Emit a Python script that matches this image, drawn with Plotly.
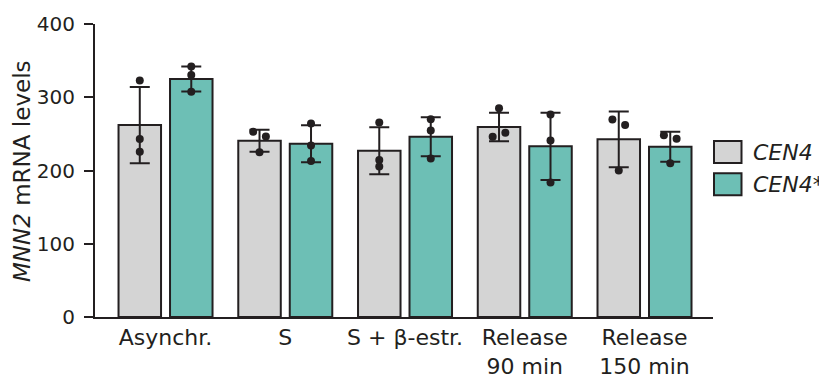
import plotly.graph_objects as go

# ---- data ----
categories = ["Asynchr.", "S", "S + β-estr.", "Release<br>90 min", "Release<br>150 min"]
series_names = ["<i>CEN4</i>", "<i>CEN4*</i>"]
cen4_mean = [262, 240.5, 227, 259.5, 242.5]
cen4_sd = [52, 15, 32, 19.5, 38]
cen4star_mean = [325, 236.5, 246, 233, 232.5]
cen4star_sd = [17, 25.3, 26.6, 46, 20.5]
cen4_points = [[323, 243, 225.5], [253, 246.5, 225], [265.5, 214.5, 205.5],
               [285, 246, 251.5], [269.5, 262, 200]]
cen4star_points = [[342, 330.5, 307.5], [264, 234, 213], [270, 254.5, 216.5],
                   [276.5, 241, 183.5], [248, 243.5, 210]]
# horizontal jitter direction of each replicate dot (-1 left, 0 centre, 1 right)
cen4_jitter = [[0, 0, 0], [-1, 1, 0], [0, 0, 0], [0, -1, 1], [-1, 1, 0]]
cen4star_jitter = [[0, 0, 0], [0, 0, 0], [0, 0, 0], [0, 0, 0], [-1, 1, 0]]
y_ticks = [0, 100, 200, 300, 400]

# ---- style ----
INK = "#231f20"
GRAY = "#d4d4d4"
TEAL = "#6dbfb5"
FONT = "DejaVu Sans"
OFF = 0.215
BW = 0.355
JIT = 0.053

idx = list(range(len(categories)))

fig = go.Figure()

def add_series(means, sds, points, jitter, color, offset):
    xs = [i + offset for i in idx]
    fig.add_trace(go.Bar(
        x=xs, y=means, width=BW, marker=dict(color=color, line=dict(color=INK, width=2)),
        error_y=dict(type="data", array=sds, visible=True, color=INK, thickness=2, width=10),
        showlegend=False,
    ))
    px, py = [], []
    for i, (pts, jit) in enumerate(zip(points, jitter)):
        for v, j in zip(pts, jit):
            px.append(i + offset + j * JIT)
            py.append(v)
    fig.add_trace(go.Scatter(
        x=px, y=py, mode="markers",
        marker=dict(color=INK, size=8, line=dict(width=0)),
        showlegend=False,
    ))

add_series(cen4_mean, cen4_sd, cen4_points, cen4_jitter, GRAY, -OFF)
add_series(cen4star_mean, cen4star_sd, cen4star_points, cen4star_jitter, TEAL, OFF)

# page has an 8px body margin: figure coordinates = page coordinates - 8
PAD = 8
W, H = 827 - PAD, 378 - PAD
L, R, T, B = 95 - PAD, 114, 24 - PAD, 61
pw, ph = W - L - R, H - T - B

def px2x(p):  # page pixel -> paper x
    return (p - PAD - L) / pw

def px2y(p):  # page pixel -> paper y
    return (H - B - (p - PAD)) / ph

# legend drawn manually (large rectangles)
legend_rows = [(152, GRAY), (184.3, TEAL)]
for (cy, col), name in zip(legend_rows, series_names):
    fig.add_shape(type="rect", xref="paper", yref="paper",
                  x0=px2x(714), x1=px2x(741.5), y0=px2y(cy + 11), y1=px2y(cy - 11),
                  fillcolor=col, line=dict(color=INK, width=2))
    fig.add_annotation(xref="paper", yref="paper", x=px2x(751), y=px2y(cy),
                       xanchor="left", yanchor="middle", text=name, showarrow=False,
                       font=dict(family=FONT, size=22, color=INK))

fig.add_annotation(xref="paper", yref="paper", x=px2x(22), y=px2y(171),
                   xanchor="center", yanchor="middle", textangle=-90,
                   text="<i>MNN2</i> mRNA levels", showarrow=False,
                   font=dict(family=FONT, size=23, color=INK))

fig.update_layout(
    template="none",
    width=W, height=H,
    margin=dict(l=L, r=R, t=T, b=B, pad=0, autoexpand=False),
    plot_bgcolor="white", paper_bgcolor="white",
    font=dict(family=FONT, color=INK),
    showlegend=False,
    xaxis=dict(range=[-0.589, 4.572], tickvals=idx, ticktext=categories,
               showline=True, linewidth=2, linecolor=INK, ticks="",
               showgrid=False, zeroline=False, tickfont=dict(size=22, color=INK),
               ticklabelstandoff=0, automargin=False, fixedrange=True),
    yaxis=dict(range=[0, 400], tickvals=y_ticks, ticks="outside", ticklen=9,
               tickwidth=2, tickcolor=INK, showline=True, linewidth=2, linecolor=INK,
               showgrid=False, zeroline=False, tickfont=dict(size=20, color=INK),
               ticklabelstandoff=5, automargin=False, fixedrange=True),
)

fig.write_html("out.html")
